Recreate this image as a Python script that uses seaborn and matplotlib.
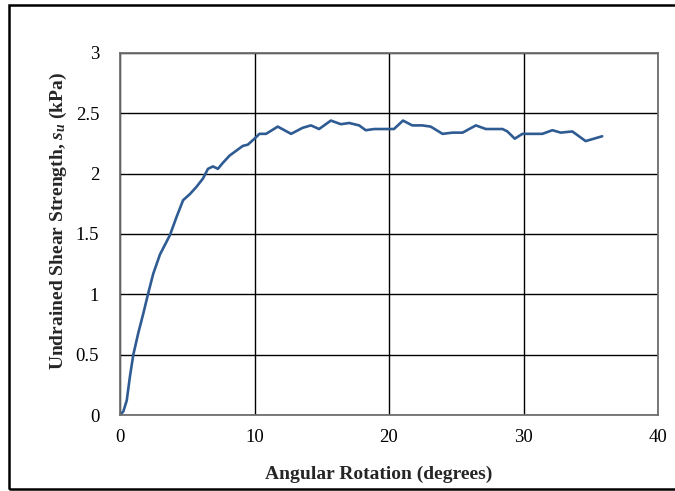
import matplotlib
matplotlib.use("Agg")
import matplotlib.pyplot as plt
import seaborn as sns
import pandas as pd
from matplotlib.patches import Rectangle

# Angular rotation (degrees) and undrained shear strength s_u (kPa)
rotation = [0.0, 0.25, 0.50, 0.74, 0.99, 1.36, 1.73, 2.10, 2.47, 2.97, 3.71,
            4.20, 4.69, 5.19, 5.68, 6.17, 6.54, 6.91, 7.28, 7.65, 8.15, 8.64,
            9.13, 9.50, 10.00, 10.37, 10.86, 11.73, 12.72, 13.58, 14.20,
            14.80, 15.68, 16.42, 17.04, 17.78, 18.27, 18.90, 20.00, 20.37,
            21.04, 21.73, 22.47, 23.10, 23.98, 24.72, 25.47, 26.46, 27.20,
            28.44, 28.80, 29.35, 29.92, 31.40, 32.15, 32.77, 33.63, 34.62,
            35.24, 35.85]
strength = [0.0, 0.03, 0.12, 0.32, 0.50, 0.68, 0.84, 1.01, 1.17, 1.33, 1.49,
            1.64, 1.78, 1.83, 1.89, 1.96, 2.04, 2.06, 2.04, 2.09, 2.15, 2.19,
            2.23, 2.24, 2.29, 2.33, 2.33, 2.39, 2.33, 2.38, 2.40,
            2.37, 2.44, 2.41, 2.42, 2.40, 2.36, 2.37, 2.37, 2.37,
            2.44, 2.40, 2.40, 2.39, 2.33, 2.34, 2.34, 2.40, 2.37,
            2.37, 2.35, 2.29, 2.33, 2.33, 2.36, 2.34, 2.35, 2.27,
            2.29, 2.31]

x_ticks = [0, 10, 20, 30, 40]
y_ticks = [0, 0.5, 1, 1.5, 2, 2.5, 3]
y_tick_labels = ["0", "0.5", "1", "1.5", "2", "2.5", "3"]

df = pd.DataFrame({"rotation": rotation, "strength": strength})

sns.set_style("white")
plt.rcParams["font.family"] = ["Liberation Serif", "DejaVu Serif"]
plt.rcParams["mathtext.fontset"] = "custom"
plt.rcParams["mathtext.it"] = "Liberation Serif:italic:bold"
plt.rcParams["mathtext.rm"] = "Liberation Serif:bold"

fig = plt.figure(figsize=(6.75, 4.91), dpi=100)
ax = fig.add_axes([120 / 675, 1 - 415 / 491, 538 / 675, 362 / 491])

line_kws = dict(solid_joinstyle="round", solid_capstyle="round")
sns.lineplot(data=df, x="rotation", y="strength", ax=ax, color="#2F5B93",
             linewidth=1.9, sort=False, **line_kws)

ax.set_xlim(0, 40)
ax.set_ylim(0, 3)
ax.set_xticks(x_ticks)
ax.set_xticklabels([str(t) for t in x_ticks])
ax.set_yticks(y_ticks)
ax.set_yticklabels(y_tick_labels)
ax.grid(True, color="black", linewidth=1.0)
ax.set_axisbelow(True)
for s in ax.spines.values():
    s.set_color("#6e6e6e")
    s.set_linewidth(1.3)
ax.tick_params(axis="x", length=0, labelsize=13.5, pad=10, colors="black")
ax.tick_params(axis="y", length=0, labelsize=13.5, pad=15, colors="black")

ax.set_xlabel("Angular Rotation (degrees)", fontsize=14, fontweight="bold",
              labelpad=14)
ax.set_ylabel(r"Undrained Shear Strength, $s_u$ (kPa)", fontsize=14,
              fontweight="bold", labelpad=5)
ax.xaxis.label.set_x(0.48)
ax.yaxis.label.set_y(0.535)

# Outer frame around the figure
fig.patches.append(Rectangle((9 / 675, 2 / 491), 700 / 675, 484 / 491,
                             transform=fig.transFigure, fill=False,
                             edgecolor="black", linewidth=1.8))

fig.savefig("out.png", dpi=100)
